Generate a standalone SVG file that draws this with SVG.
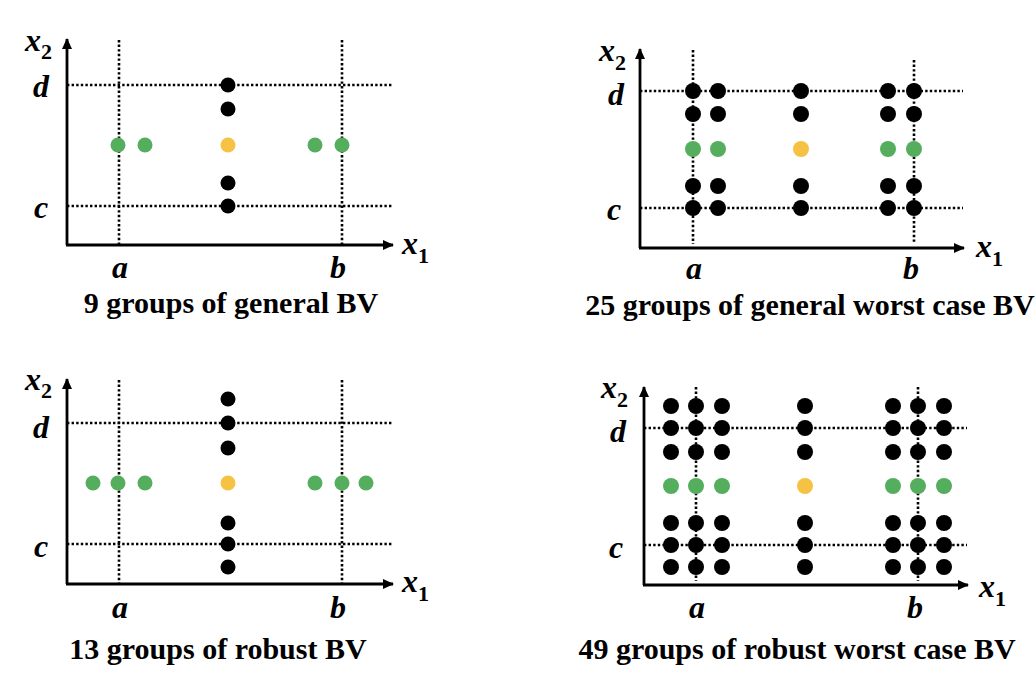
<svg xmlns="http://www.w3.org/2000/svg" xmlns:xlink="http://www.w3.org/1999/xlink" width="1036" height="686" viewBox="0 0 1036 686">
<style>
.ax{stroke:#000;stroke-width:2.8;fill:none;marker-end:url(#arr)}
.dot{stroke:#000;stroke-width:2.6;stroke-dasharray:2.4 2.2;fill:none}
.k{fill:#000}
.g{fill:#55AE5E}
.y{fill:#F6C244}
.lbl{font-family:"Liberation Serif","Times New Roman",serif;font-weight:bold;font-style:italic;font-size:32px;fill:#000}
.sub{font-family:"Liberation Serif","Times New Roman",serif;font-weight:bold;font-style:normal;font-size:22px;fill:#000}
.ttl{font-family:"Liberation Serif","Times New Roman",serif;font-weight:bold;font-size:30px;fill:#000;text-anchor:middle}
.mid{text-anchor:middle}
</style>
<defs>
<marker id="arr" markerWidth="11" markerHeight="10" refX="10" refY="5" orient="auto" markerUnits="userSpaceOnUse">
<path d="M0,0 L11,5 L0,10 Z" fill="#000"/>
</marker>
<circle id="pk" r="7.5" class="k"/>
<circle id="pg" r="7.5" class="g"/>
<circle id="py" r="7.5" class="y"/>
<circle id="qk" r="8" class="k"/>
<circle id="qg" r="8" class="g"/>
<circle id="qy" r="8" class="y"/>
</defs>
<rect width="1036" height="686" fill="#fff"/>

<g id="panel-general-bv">
<g id="grid1">
<line class="dot" x1="119" y1="40" x2="119" y2="245"/>
<line class="dot" x1="342" y1="40" x2="342" y2="245"/>
<line class="dot" x1="67" y1="85" x2="392" y2="85"/>
<line class="dot" x1="67" y1="206" x2="392" y2="206"/>
</g>
<g id="axes1">
<line class="ax" x1="67" y1="245" x2="67" y2="39"/>
<line class="ax" x1="66" y1="245" x2="393" y2="245"/>
</g>
<g id="points1">
<use href="#pk" x="228" y="85"/>
<use href="#pk" x="228" y="109"/>
<use href="#py" x="228" y="145"/>
<use href="#pk" x="228" y="183"/>
<use href="#pk" x="228" y="206"/>
<use href="#pg" x="118" y="145"/>
<use href="#pg" x="145" y="145"/>
<use href="#pg" x="315" y="145"/>
<use href="#pg" x="342" y="145"/>
</g>
<text class="lbl" x="25" y="51">x<tspan class="sub" dy="8">2</tspan></text>
<text class="lbl" x="33" y="97">d</text>
<text class="lbl" x="34" y="218">c</text>
<text class="lbl mid" x="120" y="278">a</text>
<text class="lbl mid" x="338" y="278">b</text>
<text class="lbl" x="402" y="254">x<tspan class="sub" dy="9">1</tspan></text>
<text class="ttl" x="231" y="313">9 groups of general BV</text>
</g>

<g id="panel-general-worst-bv">
<g id="grid2">
<line class="dot" x1="693" y1="50" x2="693" y2="244"/>
<line class="dot" x1="914" y1="60" x2="914" y2="244"/>
<line class="dot" x1="640" y1="91" x2="963" y2="91"/>
<line class="dot" x1="640" y1="208" x2="963" y2="208"/>
</g>
<g id="axes2">
<line class="ax" x1="640" y1="248" x2="640" y2="49"/>
<line class="ax" x1="639" y1="248" x2="964" y2="248"/>
</g>
<g id="points2">
<use href="#qk" x="693" y="91"/><use href="#qk" x="693" y="114"/><use href="#qg" x="693" y="149"/><use href="#qk" x="693" y="186"/><use href="#qk" x="693" y="208"/>
<use href="#qk" x="718" y="91"/><use href="#qk" x="718" y="114"/><use href="#qg" x="718" y="149"/><use href="#qk" x="718" y="186"/><use href="#qk" x="718" y="208"/>
<use href="#qk" x="801" y="91"/><use href="#qk" x="801" y="114"/><use href="#qy" x="801" y="149"/><use href="#qk" x="801" y="186"/><use href="#qk" x="801" y="208"/>
<use href="#qk" x="888" y="91"/><use href="#qk" x="888" y="114"/><use href="#qg" x="888" y="149"/><use href="#qk" x="888" y="186"/><use href="#qk" x="888" y="208"/>
<use href="#qk" x="914" y="91"/><use href="#qk" x="914" y="114"/><use href="#qg" x="914" y="149"/><use href="#qk" x="914" y="186"/><use href="#qk" x="914" y="208"/>
</g>
<text class="lbl" x="599" y="61">x<tspan class="sub" dy="9">2</tspan></text>
<text class="lbl" x="608" y="105">d</text>
<text class="lbl" x="607" y="220">c</text>
<text class="lbl mid" x="694" y="279">a</text>
<text class="lbl mid" x="911" y="279">b</text>
<text class="lbl" x="976" y="257">x<tspan class="sub" dy="9">1</tspan></text>
<text class="ttl" x="810" y="315">25 groups of general worst case BV</text>
</g>

<g id="panel-robust-bv">
<g id="grid3">
<line class="dot" x1="119" y1="380" x2="119" y2="584"/>
<line class="dot" x1="342" y1="380" x2="342" y2="584"/>
<line class="dot" x1="67" y1="423" x2="392" y2="423"/>
<line class="dot" x1="67" y1="544" x2="392" y2="544"/>
</g>
<g id="axes3">
<line class="ax" x1="67" y1="584" x2="67" y2="379"/>
<line class="ax" x1="66" y1="584" x2="393" y2="584"/>
</g>
<g id="points3">
<use href="#pk" x="228" y="399"/>
<use href="#pk" x="228" y="423"/>
<use href="#pk" x="228" y="448"/>
<use href="#py" x="228" y="483"/>
<use href="#pk" x="228" y="523"/>
<use href="#pk" x="228" y="544"/>
<use href="#pk" x="228" y="567"/>
<use href="#pg" x="93" y="483"/>
<use href="#pg" x="118" y="483"/>
<use href="#pg" x="145" y="483"/>
<use href="#pg" x="315" y="483"/>
<use href="#pg" x="342" y="483"/>
<use href="#pg" x="366" y="483"/>
</g>
<text class="lbl" x="25" y="390">x<tspan class="sub" dy="8">2</tspan></text>
<text class="lbl" x="33" y="438">d</text>
<text class="lbl" x="34" y="557">c</text>
<text class="lbl mid" x="120" y="618">a</text>
<text class="lbl mid" x="338" y="618">b</text>
<text class="lbl" x="402" y="592">x<tspan class="sub" dy="9">1</tspan></text>
<text class="ttl" x="218" y="659">13 groups of robust BV</text>
</g>

<g id="panel-robust-worst-bv">
<g id="grid4">
<line class="dot" x1="696" y1="387" x2="696" y2="581"/>
<line class="dot" x1="918" y1="387" x2="918" y2="581"/>
<line class="dot" x1="644" y1="428" x2="967" y2="428"/>
<line class="dot" x1="644" y1="545" x2="967" y2="545"/>
</g>
<g id="axes4">
<line class="ax" x1="644" y1="585" x2="644" y2="387"/>
<line class="ax" x1="643" y1="585" x2="968" y2="585"/>
</g>
<g id="points4">
<use href="#qk" x="671" y="406"/><use href="#qk" x="671" y="428"/><use href="#qk" x="671" y="452"/><use href="#qg" x="671" y="486"/><use href="#qk" x="671" y="523"/><use href="#qk" x="671" y="545"/><use href="#qk" x="671" y="567"/>
<use href="#qk" x="696" y="406"/><use href="#qk" x="696" y="428"/><use href="#qk" x="696" y="452"/><use href="#qg" x="696" y="486"/><use href="#qk" x="696" y="523"/><use href="#qk" x="696" y="545"/><use href="#qk" x="696" y="567"/>
<use href="#qk" x="722" y="406"/><use href="#qk" x="722" y="428"/><use href="#qk" x="722" y="452"/><use href="#qg" x="722" y="486"/><use href="#qk" x="722" y="523"/><use href="#qk" x="722" y="545"/><use href="#qk" x="722" y="567"/>
<use href="#qk" x="805" y="406"/><use href="#qk" x="805" y="428"/><use href="#qk" x="805" y="452"/><use href="#qy" x="805" y="486"/><use href="#qk" x="805" y="523"/><use href="#qk" x="805" y="545"/><use href="#qk" x="805" y="567"/>
<use href="#qk" x="893" y="406"/><use href="#qk" x="893" y="428"/><use href="#qk" x="893" y="452"/><use href="#qg" x="893" y="486"/><use href="#qk" x="893" y="523"/><use href="#qk" x="893" y="545"/><use href="#qk" x="893" y="567"/>
<use href="#qk" x="918" y="406"/><use href="#qk" x="918" y="428"/><use href="#qk" x="918" y="452"/><use href="#qg" x="918" y="486"/><use href="#qk" x="918" y="523"/><use href="#qk" x="918" y="545"/><use href="#qk" x="918" y="567"/>
<use href="#qk" x="944" y="406"/><use href="#qk" x="944" y="428"/><use href="#qk" x="944" y="452"/><use href="#qg" x="944" y="486"/><use href="#qk" x="944" y="523"/><use href="#qk" x="944" y="545"/><use href="#qk" x="944" y="567"/>
</g>
<text class="lbl" x="601" y="398">x<tspan class="sub" dy="9">2</tspan></text>
<text class="lbl" x="610" y="442">d</text>
<text class="lbl" x="609" y="558">c</text>
<text class="lbl mid" x="697" y="618">a</text>
<text class="lbl mid" x="915" y="618">b</text>
<text class="lbl" x="979" y="597">x<tspan class="sub" dy="9">1</tspan></text>
<text class="ttl" x="797" y="659">49 groups of robust worst case BV</text>
</g>
</svg>
